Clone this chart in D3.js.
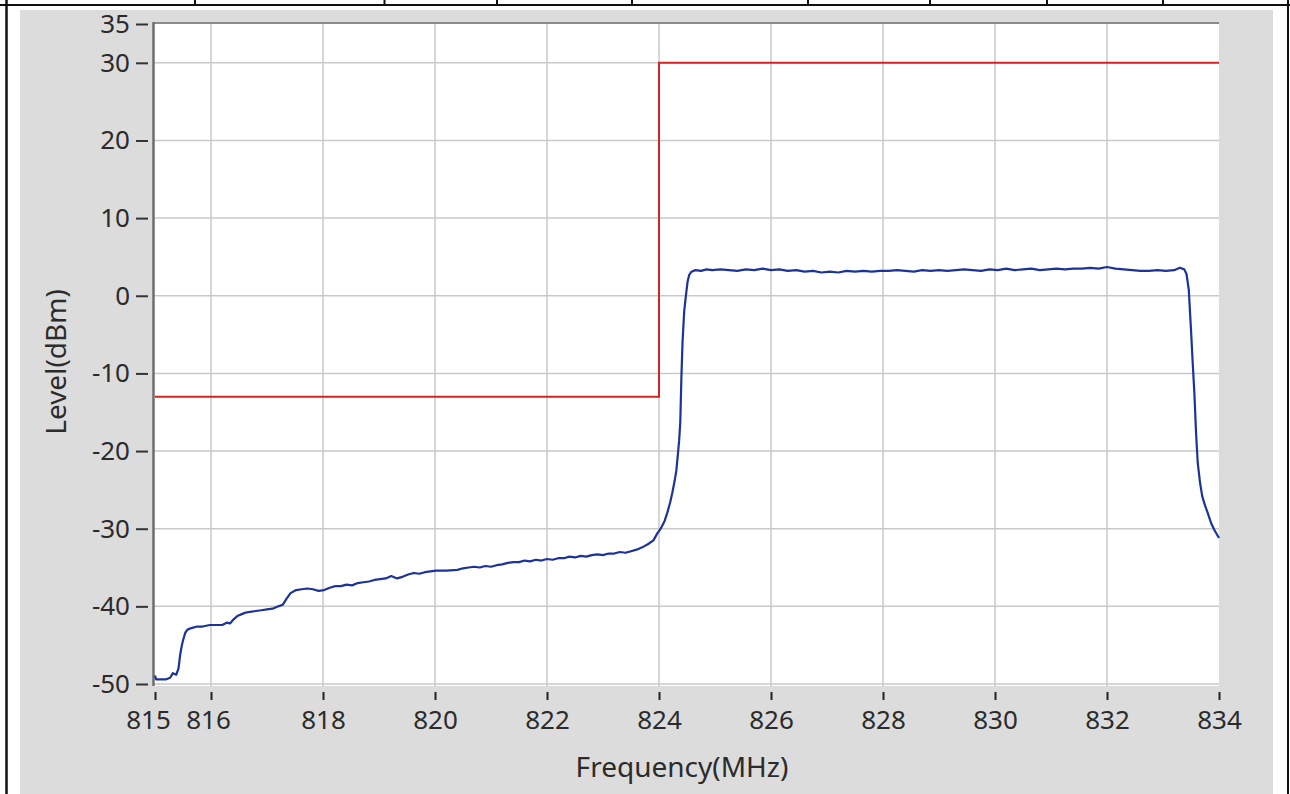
<!DOCTYPE html>
<html>
<head>
<meta charset="utf-8">
<script src="https://cdn.jsdelivr.net/npm/d3@7"></script>
<style>
  html, body { margin: 0; padding: 0; background: #ffffff; }
  svg { display: block; }
  text { font-family: "Noto Sans", "DejaVu Sans", sans-serif; fill: #2b2b2b; }
</style>
</head>
<body>
<svg id="chart" width="1290" height="794"></svg>
<script>
// ---- data ----
const xTicks = [815, 816, 818, 820, 822, 824, 826, 828, 830, 832, 834];
const yTicks = [35, 30, 20, 10, 0, -10, -20, -30, -40, -50];
const gridY = [30, 20, 10, 0, -10, -20, -30, -40, -50];
const gridX = [816, 818, 820, 822, 824, 826, 828, 830, 832];

const limitFreq  = [815, 824, 824, 834];
const limitLevel = [-13, -13, 30, 30];

const specFreq = [
  815.00, 815.02, 815.10, 815.20, 815.27, 815.32, 815.38, 815.42, 815.45, 815.48,
  815.50, 815.54, 815.58, 815.65, 815.75, 815.85, 815.98, 816.10, 816.20, 816.28,
  816.34, 816.40, 816.48, 816.55, 816.62, 816.70, 816.80, 816.90, 817.00, 817.10,
  817.20, 817.28, 817.35, 817.42, 817.52, 817.62, 817.72, 817.82, 817.92, 818.02,
  818.12, 818.22, 818.32, 818.42, 818.52, 818.62, 818.72, 818.82, 818.92, 819.02,
  819.12, 819.22, 819.32, 819.42, 819.52, 819.62, 819.72, 819.82, 819.92, 820.02,
  820.20, 820.40, 820.50, 820.60, 820.70, 820.80, 820.90, 821.00, 821.10, 821.20,
  821.30, 821.40, 821.50, 821.60, 821.70, 821.80, 821.90, 822.00, 822.10, 822.20,
  822.30, 822.40, 822.50, 822.60, 822.70, 822.80, 822.90, 823.00, 823.10, 823.20,
  823.30, 823.40, 823.50, 823.60, 823.70, 823.80, 823.90, 823.97, 824.03, 824.10,
  824.15, 824.20, 824.24, 824.28, 824.31, 824.34, 824.36, 824.38, 824.40, 824.42,
  824.45, 824.48, 824.51, 824.54, 824.58, 824.65, 824.75, 824.85, 824.95, 825.10,
  825.25, 825.40, 825.55, 825.70, 825.85, 826.00, 826.15, 826.30, 826.45, 826.60,
  826.75, 826.90, 827.05, 827.20, 827.35, 827.50, 827.65, 827.80, 827.95, 828.10,
  828.25, 828.40, 828.55, 828.70, 828.85, 829.00, 829.15, 829.30, 829.45, 829.60,
  829.75, 829.90, 830.05, 830.20, 830.35, 830.50, 830.65, 830.80, 830.95, 831.10,
  831.25, 831.40, 831.55, 831.70, 831.85, 832.00, 832.15, 832.30, 832.45, 832.60,
  832.75, 832.90, 833.05, 833.20, 833.30, 833.38, 833.42, 833.46, 833.50, 833.53,
  833.56, 833.59, 833.62, 833.66, 833.70, 833.75, 833.80, 833.86, 833.92, 834.00
];
const specLevel = [
  -48.9, -49.4, -49.4, -49.4, -49.2, -48.6, -48.8, -48.0, -46.2, -45.0,
  -44.4, -43.4, -43.0, -42.8, -42.6, -42.6, -42.4, -42.4, -42.4, -42.1,
  -42.2, -41.7, -41.2, -41.0, -40.8, -40.7, -40.6, -40.5, -40.4, -40.3,
  -40.0, -39.8, -39.0, -38.3, -37.9, -37.8, -37.7, -37.8, -38.0, -37.9,
  -37.6, -37.4, -37.4, -37.2, -37.3, -37.0, -36.9, -36.8, -36.6, -36.5,
  -36.4, -36.1, -36.4, -36.2, -35.9, -35.7, -35.8, -35.6, -35.5, -35.4,
  -35.4, -35.3, -35.1, -35.0, -34.9, -35.0, -34.8, -34.9, -34.7, -34.6,
  -34.4, -34.3, -34.3, -34.1, -34.2, -34.0, -34.1, -33.9, -34.0, -33.8,
  -33.8, -33.6, -33.7, -33.5, -33.6, -33.4, -33.3, -33.4, -33.2, -33.2,
  -33.0, -33.1, -32.9, -32.7, -32.4, -32.0, -31.5, -30.6, -30.0, -29.0,
  -27.9, -26.6, -25.3, -23.8, -22.5, -20.2, -18.6, -16.3, -10.5, -6.0,
  -2.0, 0.0, 1.8, 2.7, 3.1, 3.3, 3.2, 3.4, 3.3, 3.4,
  3.3, 3.2, 3.4, 3.3, 3.5, 3.3, 3.4, 3.2, 3.3, 3.1,
  3.2, 3.0, 3.1, 3.0, 3.2, 3.1, 3.2, 3.1, 3.2, 3.2,
  3.3, 3.2, 3.1, 3.3, 3.2, 3.3, 3.2, 3.3, 3.4, 3.3,
  3.2, 3.4, 3.3, 3.5, 3.3, 3.4, 3.5, 3.3, 3.4, 3.5,
  3.4, 3.5, 3.5, 3.6, 3.5, 3.7, 3.5, 3.4, 3.3, 3.2,
  3.2, 3.3, 3.2, 3.3, 3.6, 3.4, 2.8, 0.8, -4.4, -8.6,
  -12.5, -17.6, -21.5, -24.0, -25.8, -27.0, -28.0, -29.3, -30.2, -31.2
];

// ---- drawing ----
const svg = d3.select("#chart");

// outer page frame (table lines)
const frame = svg.append("g").attr("stroke", "#111").attr("fill", "none");
frame.append("line").attr("x1", 0).attr("x2", 1290).attr("y1", 5).attr("y2", 5).attr("stroke-width", 2);
frame.append("line").attr("x1", 6.5).attr("x2", 6.5).attr("y1", 0).attr("y2", 794).attr("stroke-width", 2.5);
frame.append("line").attr("x1", 1288).attr("x2", 1288).attr("y1", 0).attr("y2", 794).attr("stroke-width", 2);
[195, 384.5, 497, 632, 808, 930, 1047, 1163].forEach(px => {
  frame.append("line").attr("x1", px).attr("x2", px).attr("y1", 0).attr("y2", 5).attr("stroke-width", 2);
});

// gray panel
svg.append("rect").attr("x", 20).attr("y", 10).attr("width", 1253).attr("height", 784).attr("fill", "#dcdcdc");

const x = d3.scaleLinear().domain([815, 834]).range([155, 1219]);
const y = d3.scaleLinear().domain([-50, 35]).range([684, 24]);

// plot background
svg.append("rect").attr("x", 153).attr("y", 22).attr("width", 1219 - 153).attr("height", 686 - 22).attr("fill", "#ffffff");

// grid
const grid = svg.append("g").attr("stroke", "#c9c9c9").attr("stroke-width", 1.5);
grid.selectAll(".gx").data(gridX).join("line")
  .attr("x1", d => x(d)).attr("x2", d => x(d)).attr("y1", 23).attr("y2", 686);
grid.selectAll(".gy").data(gridY).join("line")
  .attr("x1", 154).attr("x2", 1219).attr("y1", d => y(d)).attr("y2", d => y(d));

// plot frame (top and left)
svg.append("line").attr("x1", 153).attr("x2", 1219).attr("y1", 23).attr("y2", 23)
  .attr("stroke", "#8a8a8a").attr("stroke-width", 2);
svg.append("line").attr("x1", 153.5).attr("x2", 153.5).attr("y1", 22).attr("y2", 686)
  .attr("stroke", "#6e6e6e").attr("stroke-width", 2.5);

// limit line
const limitData = limitFreq.map((f, i) => [f, limitLevel[i]]);
svg.append("path").datum(limitData)
  .attr("fill", "none").attr("stroke", "#d42424").attr("stroke-width", 2)
  .attr("d", d3.line().x(d => x(d[0])).y(d => y(d[1])));

// spectrum
const specData = specFreq.map((f, i) => [f, specLevel[i]]);
svg.append("path").datum(specData)
  .attr("fill", "none").attr("stroke", "#1c3399").attr("stroke-width", 2.2)
  .attr("stroke-linejoin", "round")
  .attr("d", d3.line().x(d => x(d[0])).y(d => y(d[1])));

const fmt = d => String(d);

// y axis
const yAxis = svg.append("g").attr("transform", "translate(148,0)")
  .call(d3.axisLeft(y).tickValues(yTicks).tickSize(12).tickPadding(6).tickFormat(fmt));
yAxis.select(".domain").remove();
yAxis.selectAll(".tick line").attr("stroke", "#333").attr("stroke-width", 2);
yAxis.selectAll(".tick text").attr("font-size", 26).attr("fill", "#2b2b2b")
  .style("font-family", "'Noto Sans', sans-serif");

// x axis
const xAxis = svg.append("g").attr("transform", "translate(0,692)")
  .call(d3.axisBottom(x).tickValues(xTicks).tickSize(8).tickPadding(11).tickFormat(fmt));
xAxis.select(".domain").remove();
xAxis.selectAll(".tick line").attr("stroke", "#222").attr("stroke-width", 2);
xAxis.selectAll(".tick text").attr("font-size", 26).attr("fill", "#2b2b2b")
  .style("font-family", "'Noto Sans', sans-serif")
  .attr("dx", d => d === 815 ? -7 : (d === 816 ? -3 : 0));

// axis titles
svg.append("text").attr("x", 682).attr("y", 777).attr("text-anchor", "middle")
  .attr("font-size", 28).text("Frequency(MHz)");
svg.append("text").attr("transform", "translate(66,362) rotate(-90)").attr("text-anchor", "middle")
  .attr("font-size", 28).text("Level(dBm)");
</script>
</body>
</html>
